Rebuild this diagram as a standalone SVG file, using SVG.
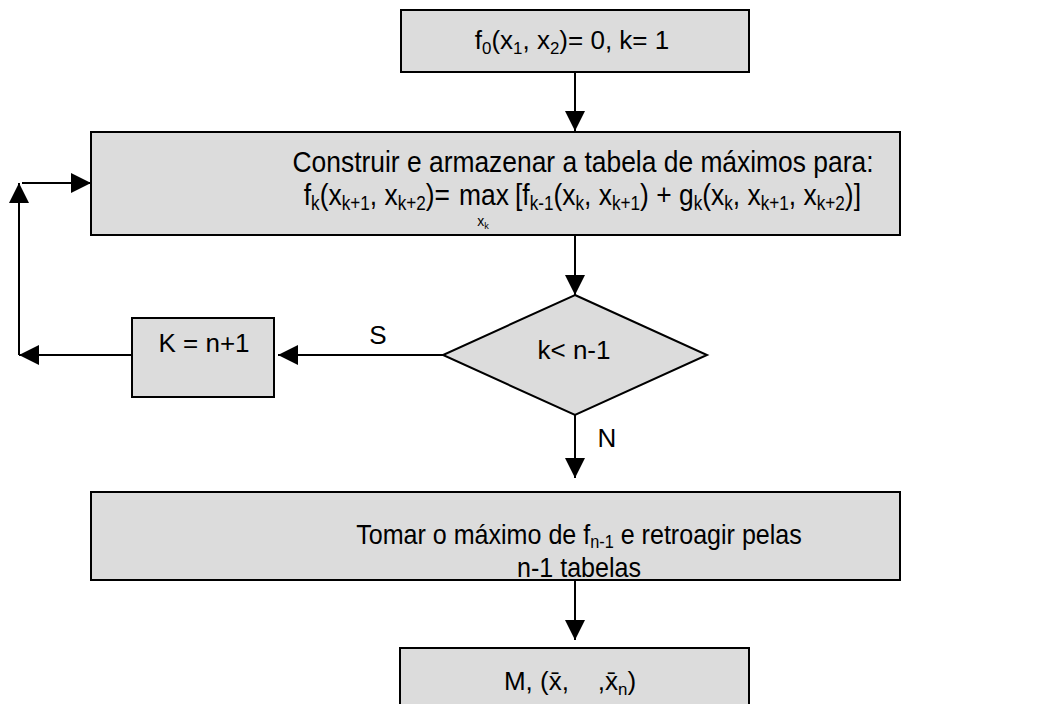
<svg xmlns="http://www.w3.org/2000/svg" width="1050" height="704" viewBox="0 0 1050 704">
<style>
.box{fill:#dcdcdc;stroke:#000;stroke-width:2}
.t{font-family:"Liberation Sans",Arial,sans-serif;font-size:26px;fill:#000}
.w{font-family:"Liberation Sans",Arial,sans-serif;font-size:30px;fill:#000}
.b{font-family:"Liberation Sans",Arial,sans-serif;font-size:28.5px;fill:#000}
.x{font-family:"Liberation Sans",Arial,sans-serif;font-size:14px;fill:#000}
.c{stroke:#000;stroke-width:2;fill:none}
.s{font-size:0.65em}
</style>
<defs>
<marker id="ah" markerUnits="userSpaceOnUse" markerWidth="20" markerHeight="20" refX="20" refY="10" orient="auto" viewBox="0 0 20 20">
<path d="M0,0 L20,10 L0,20 z" fill="#000"/>
</marker>
</defs>
<rect width="1050" height="704" fill="#fff"/>
<g id="connectors">
<path class="c" d="M575,72 V131" marker-end="url(#ah)"/>
<path class="c" d="M575,235 V295" marker-end="url(#ah)"/>
<path class="c" d="M575,415 V478" marker-end="url(#ah)"/>
<path class="c" d="M443,355 H278" marker-end="url(#ah)"/>
<path class="c" d="M132,355 H19" marker-end="url(#ah)"/>
<path class="c" d="M19,355 V183" marker-end="url(#ah)"/>
<path class="c" d="M22,183 H91" marker-end="url(#ah)"/>
<path class="c" d="M575,580 V640" marker-end="url(#ah)"/>
<text class="t" x="378" y="344" text-anchor="middle">S</text>
<text class="t" x="607" y="447" text-anchor="middle">N</text>
</g>
<g id="start">
<rect class="box" x="401" y="10" width="348" height="62"/>
<text class="t" x="572" y="49" text-anchor="middle">f<tspan class="s" dy="5">0</tspan><tspan dy="-5">(x</tspan><tspan class="s" dy="5">1</tspan><tspan dy="-5">, x</tspan><tspan class="s" dy="5">2</tspan><tspan dy="-5">)= 0, k= 1</tspan></text>
</g>
<g id="build">
<rect class="box" x="91" y="132" width="809" height="103"/>
<text class="w" transform="translate(583,172) scale(0.88,1)" x="0" y="0" text-anchor="middle">Construir e armazenar a tabela de máximos para:</text>
<text class="w" transform="translate(450,205) scale(0.88,1)" x="0" y="0" text-anchor="end">f<tspan class="s" dy="5">k</tspan><tspan dy="-5">(x</tspan><tspan class="s" dy="5">k+1</tspan><tspan dy="-5">, x</tspan><tspan class="s" dy="5">k+2</tspan><tspan dy="-5">)=</tspan></text>
<text class="w" transform="translate(459,205) scale(0.88,1)" x="0" y="0">max</text>
<text class="w" transform="translate(515,205) scale(0.88,1)" x="0" y="0">[f<tspan class="s" dy="5">k-1</tspan><tspan dy="-5">(x</tspan><tspan class="s" dy="5">k</tspan><tspan dy="-5">, x</tspan><tspan class="s" dy="5">k+1</tspan><tspan dy="-5">) + g</tspan><tspan class="s" dy="5">k</tspan><tspan dy="-5">(x</tspan><tspan class="s" dy="5">k</tspan><tspan dy="-5">, x</tspan><tspan class="s" dy="5">k+1</tspan><tspan dy="-5">, x</tspan><tspan class="s" dy="5">k+2</tspan><tspan dy="-5">)]</tspan></text>
<text class="x" x="483" y="226" text-anchor="middle">x<tspan class="s" dy="3">k</tspan></text>
</g>
<g id="decision">
<polygon class="box" points="575,295 707,355 575,415 443,355"/>
<text class="t" x="574" y="359" text-anchor="middle">k&lt; n-1</text>
</g>
<g id="increment">
<rect class="box" x="132" y="318" width="142" height="79"/>
<text class="t" x="204" y="352" text-anchor="middle">K = n+1</text>
</g>
<g id="backtrack">
<rect class="box" x="91" y="492" width="809" height="88"/>
<text class="b" transform="translate(579,544) scale(0.88,1)" x="0" y="0" text-anchor="middle">Tomar o máximo de f<tspan class="s" dy="4">n-1</tspan><tspan dy="-4"> e retroagir pelas</tspan></text>
<text class="b" transform="translate(579,577) scale(0.88,1)" x="0" y="0" text-anchor="middle">n-1 tabelas</text>
</g>
<g id="result">
<rect class="box" x="400" y="648" width="349" height="70"/>
<text class="t" x="570" y="690" text-anchor="middle" xml:space="preserve">M, (x̄,    ,x̄<tspan class="s" dy="5">n</tspan><tspan dy="-5">)</tspan></text>
</g>
</svg>
